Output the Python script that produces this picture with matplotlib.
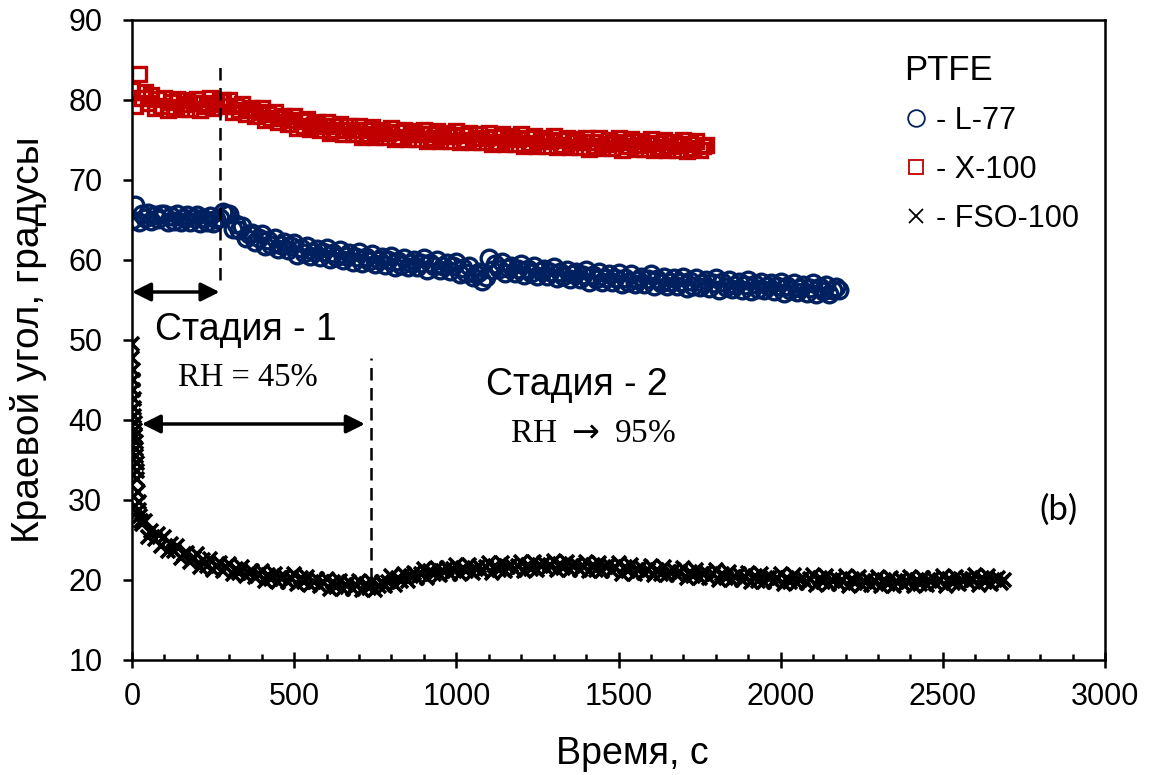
import numpy as np
import matplotlib.pyplot as plt
from matplotlib.ticker import MultipleLocator

# contact angle vs time, PTFE surface, three surfactant solutions
# readings every 10 s (FSO-100 denser at the very start)
t_l77 = np.arange(0, 2181, 10)
angle_l77 = [
    65.0, 66.9, 64.8, 65.8, 65.2, 65.9, 64.9, 65.6, 65.1, 65.7,
    65.8, 64.8, 65.5, 64.9, 65.7, 64.8, 65.3, 65.6, 64.8, 65.3,
    65.6, 64.6, 65.3, 64.7, 65.5, 64.6, 65.1, 65.3, 66.0, 65.8,
    65.7, 63.9, 64.5, 63.7, 64.3, 62.8, 63.2, 63.4, 62.3, 62.8,
    63.2, 61.7, 62.5, 61.9, 62.7, 61.4, 61.9, 62.2, 61.2, 61.7,
    62.1, 60.6, 61.5, 60.9, 61.8, 60.5, 61.0, 61.4, 60.4, 61.0,
    61.5, 60.1, 60.9, 60.4, 61.2, 60.0, 60.5, 60.9, 59.8, 60.4,
    61.0, 59.6, 60.4, 59.9, 60.7, 59.5, 60.0, 60.4, 59.4, 60.0,
    60.5, 59.1, 59.9, 59.4, 60.3, 59.1, 59.6, 60.0, 59.1, 59.6,
    60.2, 58.8, 59.6, 59.2, 60.0, 58.8, 59.2, 59.6, 58.6, 59.2,
    59.7, 58.2, 59.0, 58.4, 59.2, 57.9, 58.3, 58.5, 57.4, 57.9,
    60.2, 58.7, 59.5, 58.9, 59.7, 58.4, 59.0, 59.3, 58.4, 58.9,
    59.5, 58.1, 58.9, 58.4, 59.2, 58.0, 58.6, 58.9, 58.0, 58.5,
    59.1, 57.7, 58.5, 58.0, 58.8, 57.6, 58.2, 58.5, 57.6, 58.1,
    58.7, 57.3, 58.1, 57.6, 58.5, 57.3, 57.8, 58.2, 57.3, 57.8,
    58.4, 57.0, 57.8, 57.3, 58.2, 57.0, 57.5, 57.9, 57.0, 57.6,
    58.2, 56.7, 57.6, 57.1, 57.9, 56.8, 57.3, 57.7, 56.8, 57.3,
    57.9, 56.5, 57.4, 56.8, 57.7, 56.6, 57.1, 57.5, 56.5, 57.1,
    57.7, 56.3, 57.2, 56.6, 57.5, 56.4, 56.9, 57.3, 56.3, 56.9,
    57.5, 56.1, 57.0, 56.4, 57.3, 56.2, 56.7, 57.1, 56.1, 56.7,
    57.3, 55.9, 56.8, 56.2, 57.1, 56.0, 56.5, 56.9, 55.9, 56.5,
    57.1, 55.7, 56.6, 56.1, 56.9, 55.8, 56.3, 56.6, 56.2,
]

t_x100 = np.arange(0, 1771, 10)
angle_x100 = [
    81.2, 79.2, 83.2, 80.2, 81.0, 79.6, 80.6, 79.0, 80.1, 79.2,
    80.2, 78.8, 79.7, 79.1, 80.1, 78.9, 79.5, 80.0, 78.9, 79.6,
    80.1, 78.8, 79.6, 79.2, 80.2, 79.0, 79.5, 79.9, 80.0, 79.3,
    80.0, 78.5, 79.3, 78.7, 79.5, 78.2, 78.7, 79.0, 78.0, 78.5,
    79.0, 77.5, 78.3, 77.7, 78.5, 77.2, 77.7, 78.0, 77.0, 77.5,
    78.0, 76.5, 77.4, 76.8, 77.6, 76.4, 76.9, 77.2, 76.2, 76.8,
    77.3, 75.9, 76.7, 76.2, 77.0, 75.8, 76.3, 76.7, 75.7, 76.3,
    76.8, 75.4, 76.2, 75.7, 76.6, 75.4, 75.9, 76.3, 75.4, 75.9,
    76.5, 75.1, 76.0, 75.4, 76.3, 75.1, 75.7, 76.1, 75.1, 75.7,
    76.3, 74.9, 75.8, 75.2, 76.1, 74.9, 75.5, 75.9, 74.9, 75.5,
    76.1, 74.7, 75.6, 75.0, 75.9, 74.7, 75.3, 75.7, 74.7, 75.3,
    75.9, 74.5, 75.4, 74.8, 75.7, 74.5, 75.1, 75.5, 74.5, 75.1,
    75.7, 74.3, 75.2, 74.6, 75.5, 74.3, 74.9, 75.3, 74.3, 74.9,
    75.5, 74.1, 75.0, 74.4, 75.3, 74.1, 74.7, 75.1, 74.1, 74.7,
    75.3, 73.9, 74.8, 74.3, 75.2, 74.0, 74.5, 75.0, 74.0, 74.6,
    75.2, 73.8, 74.7, 74.2, 75.1, 73.9, 74.4, 74.9, 73.9, 74.5,
    75.1, 73.7, 74.6, 74.1, 75.0, 73.8, 74.3, 74.8, 73.8, 74.4,
    75.0, 73.6, 74.5, 74.0, 74.9, 73.7, 74.2, 74.4,
]

t_fso_start = [0, 1, 2, 3, 4, 5, 6, 7, 8, 9, 10, 11, 12, 13, 14, 15, 16,
               18, 20, 22, 25, 28, 30]
t_fso = np.concatenate([t_fso_start, np.arange(40, 2691, 10)])
angle_fso = [
    49.5, 47.8, 46.3, 45.0, 43.8, 42.6, 41.5, 40.5, 39.6, 38.8, 38.0, 37.2,
    36.4, 35.5, 34.6, 33.6, 32.6, 31.0, 29.8, 28.8, 28.0, 27.4, 27.0,
    27.4, 25.4, 26.1, 25.1, 25.8, 24.3,
    25.4, 23.6, 24.5, 23.6, 24.3, 22.8, 23.2, 23.4, 22.3, 22.8,
    23.3, 21.6, 22.5, 21.7, 22.6, 21.3, 21.8, 22.1, 21.1, 21.6,
    22.0, 20.7, 21.4, 20.9, 21.6, 20.5, 20.9, 21.1, 20.4, 20.8,
    21.1, 19.9, 20.6, 20.1, 20.8, 19.8, 20.3, 20.5, 19.8, 20.2,
    20.7, 19.5, 20.2, 19.7, 20.4, 19.4, 19.8, 20.1, 19.3, 19.8,
    20.1, 18.9, 19.7, 19.1, 19.9, 18.9, 19.4, 19.7, 18.9, 19.4,
    19.9, 18.7, 19.5, 19.0, 19.8, 18.8, 19.3, 19.7, 19.2, 19.8,
    20.5, 19.4, 20.3, 19.9, 20.8, 19.9, 20.5, 20.9, 20.3, 20.8,
    21.4, 20.3, 21.1, 20.7, 21.5, 20.6, 21.1, 21.5, 20.8, 21.4,
    21.9, 20.7, 21.5, 21.1, 21.9, 20.9, 21.4, 21.7, 21.1, 21.6,
    22.1, 20.9, 21.7, 21.3, 22.1, 21.1, 21.6, 21.9, 21.3, 21.8,
    22.3, 21.1, 21.9, 21.4, 22.2, 21.2, 21.8, 22.1, 21.4, 21.9,
    22.4, 21.2, 22.0, 21.5, 22.2, 21.2, 21.7, 22.0, 21.3, 21.8,
    22.3, 21.1, 21.9, 21.3, 22.1, 21.1, 21.6, 21.9, 21.1, 21.6,
    22.1, 20.8, 21.6, 21.1, 21.9, 20.8, 21.3, 21.6, 20.9, 21.3,
    21.8, 20.6, 21.3, 20.8, 21.6, 20.6, 21.0, 21.3, 20.6, 21.0,
    21.5, 20.3, 21.0, 20.5, 21.3, 20.3, 20.7, 21.0, 20.3, 20.7,
    21.2, 20.0, 20.7, 20.2, 21.0, 20.0, 20.4, 20.7, 20.0, 20.4,
    20.9, 19.7, 20.5, 19.9, 20.7, 19.7, 20.2, 20.4, 19.7, 20.2,
    20.7, 19.5, 20.3, 19.8, 20.6, 19.6, 20.0, 20.3, 19.6, 20.1,
    20.6, 19.4, 20.2, 19.7, 20.5, 19.5, 19.9, 20.2, 19.5, 20.0,
    20.5, 19.3, 20.1, 19.6, 20.4, 19.4, 19.8, 20.1, 19.4, 19.9,
    20.4, 19.2, 20.0, 19.5, 20.3, 19.3, 19.8, 20.1, 19.4, 19.9,
    20.4, 19.2, 20.0, 19.5, 20.3, 19.4, 19.9, 20.2, 19.5, 20.0,
    20.5, 19.3, 20.1, 19.6, 20.4, 19.5, 20.0, 20.3, 19.6, 20.1,
    20.6, 19.4, 20.2, 19.7, 20.5, 19.5, 20.0, 20.3, 19.6, 20.0,
]

labels = ['- L-77', '- X-100', '- FSO-100']

# stage boundaries (humidity switch times)
t_stage1_end = 270
t_stage1_end_fso = 736

plt.rcParams['font.family'] = ['Liberation Sans', 'DejaVu Sans']

fig = plt.figure(figsize=(11.52, 7.75), dpi=100)
ax = fig.add_axes([0.1146, 0.1484, 0.8446, 0.8258])

# hollow markers, as in the spreadsheet export
h1, = ax.plot(t_l77, angle_l77, 'o', ms=12, mfc='none', mec='#002060', mew=2.4, label=labels[0])
h2, = ax.plot(t_x100, angle_x100, 's', ms=10.5, mfc='none', mec='#C00000', mew=2.4, label=labels[1])
h3, = ax.plot(t_fso, angle_fso, 'x', ms=10, color='black', mew=2.6, label=labels[2])

ax.set_xlim(0, 3000)
ax.set_ylim(10, 90)
ax.xaxis.set_major_locator(MultipleLocator(500))
ax.xaxis.set_minor_locator(MultipleLocator(100))
ax.yaxis.set_major_locator(MultipleLocator(10))

ax.tick_params(axis='x', which='major', direction='inout', length=11.5, width=1.8, labelsize=22, pad=10)
ax.tick_params(axis='x', which='minor', direction='in', length=4.3, width=1.8)
ax.tick_params(axis='y', which='major', direction='out', length=6.3, width=1.8, labelsize=22, pad=15)
for s in ax.spines.values():
    s.set_linewidth(1.8)

ax.set_xlabel('Время, с', fontsize=27)
ax.set_ylabel('Краевой угол, градусы', fontsize=28)
ax.xaxis.set_label_coords(0.514, -0.118)
ax.yaxis.set_label_coords(-0.087, 0.5)

# stage 1 markers
ax.plot([t_stage1_end, t_stage1_end], [57.5, 85], ls=(0, (5, 3)), lw=1.8, color='black')
ax.annotate('', xy=(0, 56), xytext=(t_stage1_end, 56),
            arrowprops=dict(arrowstyle='<|-|>', lw=2.5, color='black', mutation_scale=28, shrinkA=0, shrinkB=0))
ax.plot([t_stage1_end_fso, t_stage1_end_fso], [20, 47.8], ls=(0, (5, 3)), lw=1.8, color='black')
ax.annotate('', xy=(30, 39.5), xytext=(718, 39.5),
            arrowprops=dict(arrowstyle='<|-|>', lw=2.5, color='black', mutation_scale=28, shrinkA=0, shrinkB=0))

ax.text(352, 51.25, 'Стадия - 1', fontsize=27, ha='center', va='center')
ax.text(356, 45.25, 'RH = 45%', fontsize=23.5, ha='center', va='center', family='Liberation Serif')
ax.text(1372, 44.4, 'Стадия - 2', fontsize=27, ha='center', va='center')
ax.text(1421, 38.25, r'RH $\rightarrow$ 95%', fontsize=24, ha='center', va='center', family='Liberation Serif')
ax.text(2858, 28.75, '(b)', fontsize=25, ha='center', va='center', family='Lato')

leg = ax.legend(handles=[h1, h2, h3], title='PTFE', loc='upper left', bbox_to_anchor=(0.765, 0.99),
                frameon=False, fontsize=22, title_fontsize=25, numpoints=1,
                handlelength=0.8, handletextpad=0.25, labelspacing=0.62, alignment='left')
for lh in leg.legend_handles:
    lh.set_markeredgewidth(1.3)

plt.savefig('out.png', dpi=100)
